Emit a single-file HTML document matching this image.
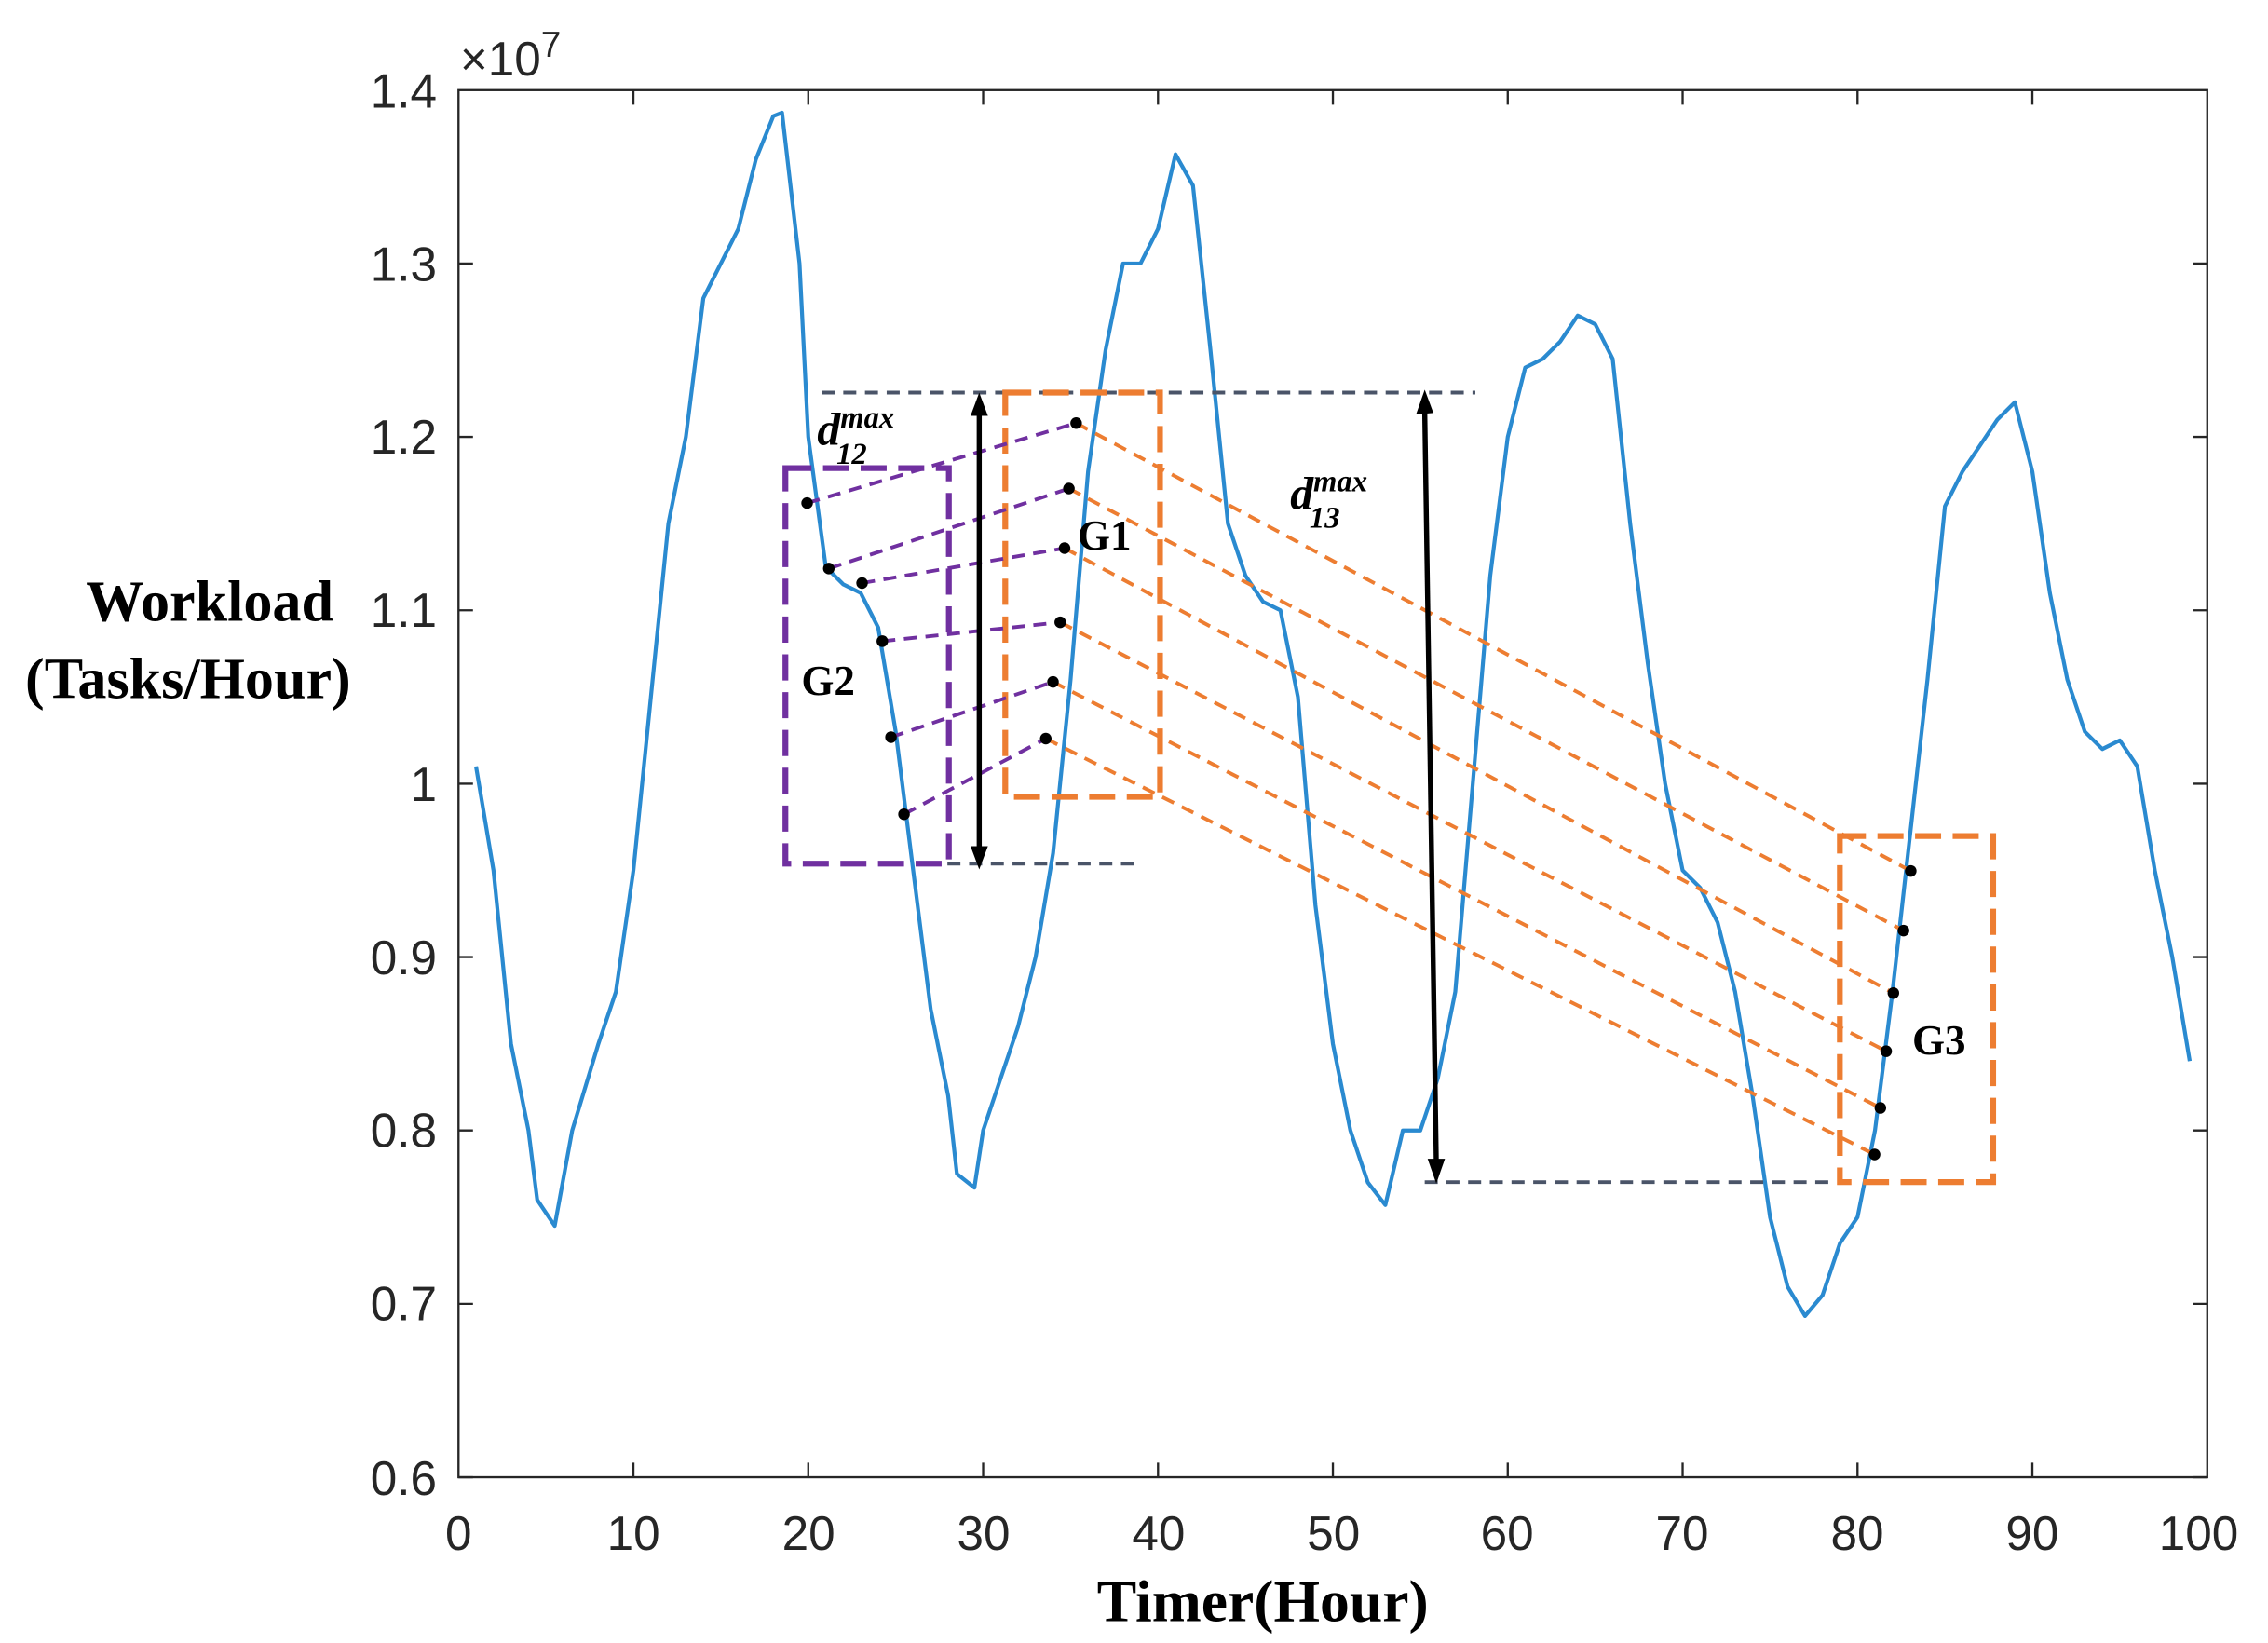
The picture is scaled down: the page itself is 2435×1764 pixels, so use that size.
<!DOCTYPE html>
<html><head><meta charset="utf-8"><style>
html,body{margin:0;padding:0;background:#fff;}
svg{display:block;}
.t{font-family:"Liberation Sans",sans-serif;font-size:33px;fill:#262626;}
.s{font-family:"Liberation Serif",serif;font-weight:bold;fill:#000;}
</style></head><body>
<svg width="2435" height="1764" viewBox="0 0 1568 1130" preserveAspectRatio="none" xmlns="http://www.w3.org/2000/svg">
<rect width="1568" height="1130" fill="#fff"/>
<rect x="317" y="62" width="1209" height="954" fill="none" stroke="#262626" stroke-width="1.5"/>
<g stroke="#262626" stroke-width="1.5">
<path d="M317,1016h10M317,896.75h10M317,777.5h10M317,658.25h10M317,539h10M317,419.75h10M317,300.5h10M317,181.25h10M1526,1016h-10M1526,896.75h-10M1526,777.5h-10M1526,658.25h-10M1526,539h-10M1526,419.75h-10M1526,300.5h-10M1526,181.25h-10"/>
<path d="M437.9,1016v-10M558.8,1016v-10M679.7,1016v-10M800.6,1016v-10M921.5,1016v-10M1042.4,1016v-10M1163.3,1016v-10M1284.2,1016v-10M1405.1,1016v-10M437.9,62v10M558.8,62v10M679.7,62v10M800.6,62v10M921.5,62v10M1042.4,62v10M1163.3,62v10M1284.2,62v10M1405.1,62v10"/>
</g>
<g class="t" text-anchor="end">
<text x="302" y="1028">0.6</text><text x="302" y="908">0.7</text><text x="302" y="789">0.8</text><text x="302" y="670">0.9</text><text x="302" y="551">1</text><text x="302" y="431">1.1</text><text x="302" y="312">1.2</text><text x="302" y="193">1.3</text><text x="302" y="74">1.4</text>
</g>
<g class="t" text-anchor="middle">
<text x="317" y="1066">0</text><text x="438" y="1066">10</text><text x="559" y="1066">20</text><text x="680" y="1066">30</text><text x="801" y="1066">40</text><text x="922" y="1066">50</text><text x="1042" y="1066">60</text><text x="1163" y="1066">70</text><text x="1284" y="1066">80</text><text x="1405" y="1066">90</text><text x="1520" y="1066">100</text>
</g>
<text class="t" x="318" y="52">×10<tspan dy="-13" font-size="25">7</tspan></text>
<g transform="translate(317,1731.5) scale(12.09,-1192.5)">
<polyline fill="none" stroke="#2a8ad0" stroke-width="4.2" vector-effect="non-scaling-stroke" stroke-linejoin="round" points="1,1.01 2,0.95 3,0.85 4,0.8 4.5,0.76 5.5,0.745 6.5,0.8 8,0.85 9,0.88 10,0.95 11,1.05 12,1.15 13,1.2 14,1.28 15,1.3 16,1.32 17,1.36 18,1.385 18.5,1.387 19.5,1.3 20,1.2 21,1.125 22,1.115 23,1.11 24,1.09 25,1.03 26,0.95 27,0.87 28,0.82 28.5,0.775 29.5,0.767 30,0.8 31,0.83 32,0.86 33,0.9 34,0.96 35,1.06 36,1.18 37,1.25 38,1.3 39,1.3 40,1.32 41,1.363 42,1.345 43,1.25 44,1.15 45,1.12 46,1.105 47,1.1 48,1.05 49,0.93 50,0.85 51,0.8 52,0.77 53,0.757 54,0.8 55,0.8 56,0.83 57,0.88 58,1.0 59,1.12 60,1.2 61,1.24 62,1.245 63,1.255 64,1.27 65,1.265 66,1.245 67,1.15 68,1.07 69,1.0 70,0.95 71,0.94 72,0.92 73,0.88 74,0.82 75,0.75 76,0.71 77,0.693 78,0.705 79,0.735 80,0.75 81,0.8 82,0.88 83,0.97 84,1.06 85,1.16 86,1.18 87,1.195 88,1.21 89,1.22 90,1.18 91,1.11 92,1.06 93,1.03 94,1.02 95,1.025 96,1.01 97,0.95 98,0.9 99,0.84"/>
</g>
<g fill="none" stroke-dasharray="9,6">
<path stroke="#4a5468" stroke-width="2.5" d="M568,270H1020M640,594H785M985,813H1270"/>
<rect x="543" y="322" width="113" height="272" stroke="#7030a0" stroke-width="4" stroke-dasharray="18,8"/>
<rect x="695" y="270" width="107" height="278" stroke="#ed7d31" stroke-width="4" stroke-dasharray="18,8"/>
<rect x="1272" y="575" width="106" height="238" stroke="#ed7d31" stroke-width="4" stroke-dasharray="18,8"/>
<path stroke="#7030a0" stroke-width="2.5" d="M558,346L744,291M573,391L739,336M596,401L736,377M610,441L733,428M616,507L728,469M625,560L723,508"/>
<path stroke="#ed7d31" stroke-width="2.5" d="M744,291L1321,599M739,336L1316,640M736,377L1309,683M733,428L1304,723M728,469L1300,762M723,508L1296,794"/>
</g>
<g stroke="#000" stroke-width="3.5" fill="#000">
<line x1="677" y1="284" x2="677" y2="584"/>
<polygon points="677,270 671,286 683,286" stroke="none"/><polygon points="677,598 671,582 683,582" stroke="none"/>
<line x1="985" y1="283" x2="993" y2="800"/>
<polygon points="985,268 979,285 991,284" stroke="none"/><polygon points="993,814 987,797 999,797" stroke="none"/>
</g>
<g fill="#000">
<circle cx="558" cy="346" r="4"/><circle cx="573" cy="391" r="4"/><circle cx="596" cy="401" r="4"/><circle cx="610" cy="441" r="4"/><circle cx="616" cy="507" r="4"/><circle cx="625" cy="560" r="4"/>
<circle cx="744" cy="291" r="4"/><circle cx="739" cy="336" r="4"/><circle cx="736" cy="377" r="4"/><circle cx="733" cy="428" r="4"/><circle cx="728" cy="469" r="4"/><circle cx="723" cy="508" r="4"/>
<circle cx="1321" cy="599" r="4"/><circle cx="1316" cy="640" r="4"/><circle cx="1309" cy="683" r="4"/><circle cx="1304" cy="723" r="4"/><circle cx="1300" cy="762" r="4"/><circle cx="1296" cy="794" r="4"/>
</g>
<text class="s" x="745" y="378" font-size="29">G1</text>
<text class="s" x="554" y="478" font-size="29">G2</text>
<text class="s" x="1322" y="725" font-size="29">G3</text>
<text class="s" x="565" y="306" font-size="32" font-style="italic">d<tspan font-size="21" dy="-12">max</tspan><tspan font-size="21" dx="-40" dy="25">12</tspan></text>
<text class="s" x="892" y="350" font-size="32" font-style="italic">d<tspan font-size="21" dy="-12">max</tspan><tspan font-size="21" dx="-40" dy="25">13</tspan></text>
<text class="s" x="145" y="427" font-size="40" text-anchor="middle">Workload</text>
<text class="s" x="130" y="480" font-size="40" text-anchor="middle">(Tasks/Hour)</text>
<text class="s" x="873" y="1115" font-size="41" text-anchor="middle">Timer(Hour)</text>
</svg>
</body></html>
